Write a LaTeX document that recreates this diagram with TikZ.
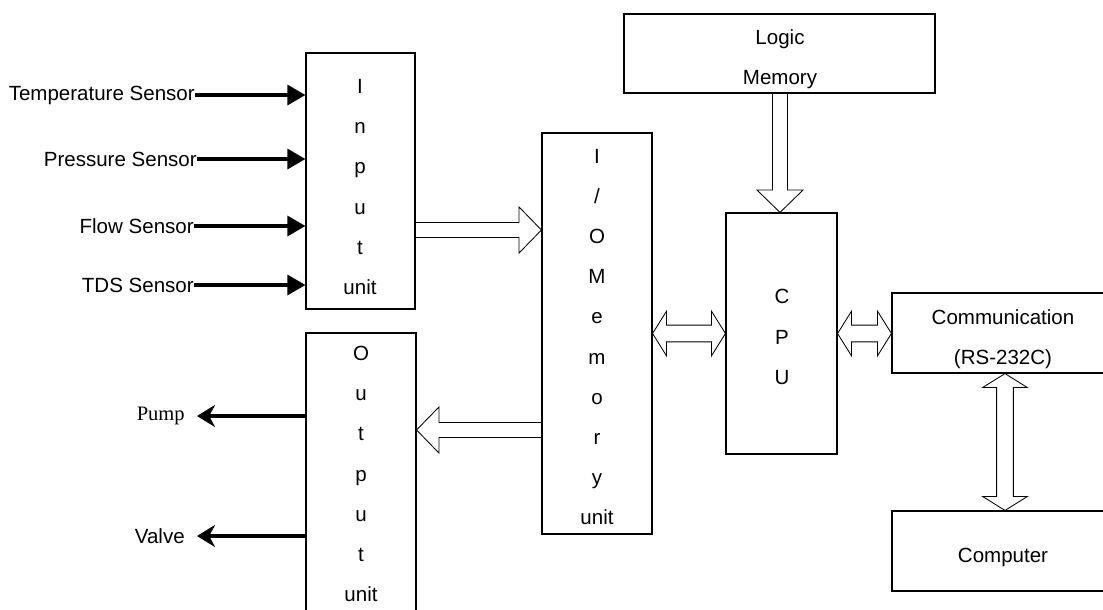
\documentclass[tikz,border=0pt]{standalone}
\usepackage{fontspec}
\setmainfont{Liberation Sans}
\newfontfamily\pumpfont{Liberation Serif}
\usepackage{tikz}
\usetikzlibrary{arrows.meta, calc, fit}

\newcommand{\boxfont}{\fontsize{14.6}{28.6}\selectfont}

% hollow block arrows (shaft half width, head half width, head length)
\def\shaftw{1.875mm}
\def\headw{5.75mm}
\def\headl{5.6mm}
\def\shaftwd{2.1mm}
\def\headwd{5.6mm}
\def\headld{3.5mm}

\newcommand{\hollowarrow}[2]{%
  \draw[hollow] ($(#1)!\shaftw!90:(#2)$)
    -- ($(#2)!\headl!(#1)!\shaftw!90:(#2)$) -- ($(#2)!\headl!(#1)!\headw!90:(#2)$)
    -- (#2)
    -- ($(#2)!\headl!(#1)!\headw!-90:(#2)$) -- ($(#2)!\headl!(#1)!\shaftw!-90:(#2)$)
    -- ($(#1)!\shaftw!-90:(#2)$);}

\newcommand{\hollowboth}[2]{%
  \draw[hollow] (#1)
    -- ($(#1)!\headld!(#2)!\headwd!90:(#2)$) -- ($(#1)!\headld!(#2)!\shaftwd!90:(#2)$)
    -- ($(#2)!\headld!(#1)!\shaftwd!90:(#2)$) -- ($(#2)!\headld!(#1)!\headwd!90:(#2)$)
    -- (#2)
    -- ($(#2)!\headld!(#1)!\headwd!-90:(#2)$) -- ($(#2)!\headld!(#1)!\shaftwd!-90:(#2)$)
    -- ($(#1)!\headld!(#2)!\shaftwd!-90:(#2)$) -- ($(#1)!\headld!(#2)!\headwd!-90:(#2)$)
    -- cycle;}

\begin{document}
\begin{tikzpicture}[x=0.25mm, y=-0.25mm,
    box/.style={draw, line width=0.8pt, inner sep=0pt},
    lbl/.style={font=\boxfont, inner sep=0pt, anchor=east},
    stack/.style={font=\boxfont, align=center, inner sep=0pt},
    sensorline/.style={line width=2.2pt, -{Triangle[length=4.5mm, width=5mm]}},
    actline/.style={line width=2.2pt, -{Stealth[length=4.5mm, width=5.5mm]}},
    hollow/.style={draw, line width=0.6pt, line join=miter}]

\useasboundingbox (0,0) rectangle (1103,609);
\clip (0,0) rectangle (1103,609);

% ── Blocks ──────────────────────────────────────────────────
\node[box, fit={(306,53) (415,309)}] (inunit) {};
\node[box, fit={(306,333) (416,640)}] (outunit) {};
\node[box, fit={(542,133) (652,534)}] (iomem) {};
\node[box, fit={(624,14) (935,93)}] (logicmem) {};
\node[box, fit={(726,213) (837,454)}] (cpu) {};
\node[box, fit={(892,293) (1130,373)}] (comm) {};
\node[box, fit={(892,511) (1130,591)}] (computer) {};

% ── Block texts ─────────────────────────────────────────────
\node[stack] (inlbl) at (360,187) {I\\n\\p\\u\\t\\unit};
\node[stack] (outlbl) at (361,474) {O\\u\\t\\p\\u\\t\\unit};
\node[stack] (iolbl) at (597,337) {I\\/\\O\\M\\e\\m\\o\\r\\y\\unit};
\node[stack] (cpulbl) at (782,337) {C\\P\\U};
\node[stack] (logiclbl) at (780,59) {Logic\\Memory};
\node[stack] (commlbl) at (1003,339) {Communication\\(RS-232C)};
\node[stack] (complbl) at (1003,557) {Computer};

% ── Sensors -> input unit ───────────────────────────────────
\node[lbl] (temp) at (195,95) {Temperature Sensor};
\node[lbl] (press) at (197,159) {Pressure Sensor};
\node[lbl] (flow) at (194,226) {Flow Sensor};
\node[lbl] (tds) at (194,285) {TDS Sensor};

\draw[sensorline] (temp.east) -- (inunit.west |- temp.east);
\draw[sensorline] (press.east) -- (inunit.west |- press.east);
\draw[sensorline] (flow.east) -- (inunit.west |- flow.east);
\draw[sensorline] (tds.east) -- (inunit.west |- tds.east);

% ── Output unit -> actuators ────────────────────────────────
\node[lbl, inner xsep=3mm] (pump) at (197,416) {\pumpfont Pump};
\node[lbl, inner xsep=3mm] (valve) at (197,536) {Valve};

\draw[actline] (outunit.west |- pump.east) -- (pump.east);
\draw[actline] (outunit.west |- valve.east) -- (valve.east);

% ── Bus arrows ──────────────────────────────────────────────
\coordinate (inr) at (inunit.east |- 0,230);
\coordinate (iol) at (iomem.west |- 0,230);
\coordinate (iodl) at (iomem.west |- 0,430);
\coordinate (outr) at (outunit.east |- 0,430);
\coordinate (lmb) at (logicmem.south -| 780,0);
\coordinate (cput) at (cpu.north -| 780,0);
\coordinate (ior) at (iomem.east |- cpu.west);
\coordinate (commc) at (comm.west |- cpu.east);
\coordinate (commb) at (comm.south -| 1005,0);
\coordinate (compt) at (computer.north -| 1005,0);

\hollowarrow{inr}{iol}
\hollowarrow{iodl}{outr}
\hollowarrow{lmb}{cput}
\hollowboth{ior}{cpu.west}
\hollowboth{cpu.east}{commc}
\hollowboth{commb}{compt}

\end{tikzpicture}
\end{document}
